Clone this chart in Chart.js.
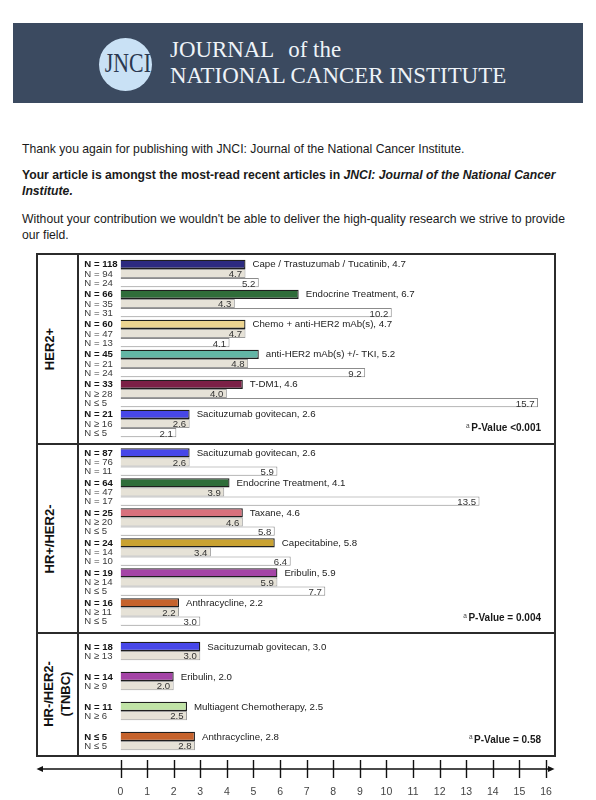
<!DOCTYPE html>
<html>
<head>
<meta charset="utf-8">
<script src="https://cdn.jsdelivr.net/npm/chart.js@4.4.1/dist/chart.umd.min.js"></script>
<style>
html,body{margin:0;padding:0;background:#ffffff;}
#page{position:relative;width:596px;height:800px;overflow:hidden;font-family:"Liberation Sans",Arial,sans-serif;color:#1a1a1a;}
.abs{position:absolute;}
#banner{left:13px;top:23px;width:570px;height:80px;background:#3b4a60;}
#logo{left:98.5px;top:37.5px;width:53px;height:53px;border-radius:50%;background:#c9e1f5;}
#logoText{left:98.5px;top:35.8px;width:53px;height:53px;line-height:53px;text-align:center;font-family:"Liberation Serif","Times New Roman",serif;font-size:28px;color:#2b3850;transform:scaleX(0.78);}
.title{left:170px;font-family:"Liberation Serif","Times New Roman",serif;font-size:22.9px;line-height:22.9px;color:#eef3f8;white-space:nowrap;}
.para{left:22px;font-size:12.2px;line-height:15.7px;white-space:nowrap;color:#1a1a1a;}
.frame{background:#2b2b2b;}
.sect{font-weight:bold;font-size:13px;line-height:16.7px;text-align:center;white-space:nowrap;transform:translate(-50%,-50%) rotate(-90deg);color:#111;}
canvas{position:absolute;left:0;}
</style>
</head>
<body>
<div id="page">
  <div id="banner" class="abs"></div>
  <div id="logo" class="abs"></div>
  <div id="logoText" class="abs">JNCI</div>
  <div class="abs title" style="top:39.4px;">JOURNAL<span style="margin-left:14px">of the</span></div>
  <div class="abs title" style="top:64.9px;">NATIONAL CANCER INSTITUTE</div>

  <div class="abs para" style="top:142.2px;">Thank you again for publishing with JNCI: Journal of the National Cancer Institute.</div>
  <div class="abs para" style="top:168.4px;font-weight:bold;">Your article is amongst the most-read recent articles in <i>JNCI: Journal of the National Cancer</i><br><i>Institute.</i></div>
  <div class="abs para" style="top:211.9px;">Without your contribution we wouldn't be able to deliver the high-quality research we strive to provide<br>our field.</div>

  <!-- frame -->
  <div class="abs frame" style="left:36px;top:253px;width:520px;height:2px;"></div>
  <div class="abs frame" style="left:36px;top:755px;width:520px;height:2px;"></div>
  <div class="abs frame" style="left:36px;top:253px;width:2px;height:504px;"></div>
  <div class="abs frame" style="left:554px;top:253px;width:2px;height:504px;"></div>
  <div class="abs frame" style="left:77px;top:253px;width:2px;height:504px;"></div>
  <div class="abs frame" style="left:36px;top:443px;width:520px;height:2px;"></div>
  <div class="abs frame" style="left:36px;top:632px;width:520px;height:2px;"></div>

  <div class="abs sect" style="left:50px;top:349px;">HER2+</div>
  <div class="abs sect" style="left:50px;top:539px;">HR+/HER2-</div>
  <div class="abs sect" style="left:58.3px;top:694px;">HR-/HER2-<br>(TNBC)</div>

  <canvas id="cA" width="596" height="189" style="top:255px;"></canvas>
  <canvas id="cB" width="596" height="189" style="top:444px;"></canvas>
  <canvas id="cC" width="596" height="167" style="top:633px;"></canvas>
</div>

<script>
// ---------- DATA ----------
const her2Treatments = ['Cape / Trastuzumab / Tucatinib', 'Endocrine Treatment', 'Chemo + anti-HER2 mAb(s)', 'anti-HER2 mAb(s) +/- TKI', 'T-DM1', 'Sacituzumab govitecan'];
const her2Overall = [4.7, 6.7, 4.7, 5.2, 4.6, 2.6];
const her2Sub1 = [4.7, 4.3, 4.7, 4.8, 4.0, 2.6];
const her2Sub2 = [5.2, 10.2, 4.1, 9.2, 15.7, 2.1];
const her2NOverall = ['N = 118', 'N = 66', 'N = 60', 'N = 45', 'N = 33', 'N = 21'];
const her2NSub1 = ['N = 94', 'N = 35', 'N = 47', 'N = 21', 'N \u2265 28', 'N \u2265 16'];
const her2NSub2 = ['N = 24', 'N = 31', 'N = 13', 'N = 24', 'N \u2264 5', 'N \u2264 5'];
const her2PValue = 'P-Value <0.001';

const hrTreatments = ['Sacituzumab govitecan', 'Endocrine Treatment', 'Taxane', 'Capecitabine', 'Eribulin', 'Anthracycline'];
const hrOverall = [2.6, 4.1, 4.6, 5.8, 5.9, 2.2];
const hrSub1 = [2.6, 3.9, 4.6, 3.4, 5.9, 2.2];
const hrSub2 = [5.9, 13.5, 5.8, 6.4, 7.7, 3.0];
const hrNOverall = ['N = 87', 'N = 64', 'N = 25', 'N = 24', 'N = 19', 'N = 16'];
const hrNSub1 = ['N = 76', 'N = 47', 'N \u2265 20', 'N = 14', 'N \u2265 14', 'N \u2265 11'];
const hrNSub2 = ['N = 11', 'N = 17', 'N \u2264 5', 'N = 10', 'N \u2264 5', 'N \u2264 5'];
const hrPValue = 'P-Value = 0.004';

const tnbcTreatments = ['Sacituzumab govitecan', 'Eribulin', 'Multiagent Chemotherapy', 'Anthracycline'];
const tnbcOverall = [3.0, 2.0, 2.5, 2.8];
const tnbcSub1 = [3.0, 2.0, 2.5, 2.8];
const tnbcNOverall = ['N = 18', 'N = 14', 'N = 11', 'N \u2264 5'];
const tnbcNSub1 = ['N \u2265 13', 'N \u2265 9', 'N \u2265 6', 'N \u2264 5'];
const tnbcPValue = 'P-Value = 0.58';

const axisTicks = [0, 1, 2, 3, 4, 5, 6, 7, 8, 9, 10, 11, 12, 13, 14, 15, 16];

// ---------- STYLES ----------
const treatmentColors = {
  'Cape / Trastuzumab / Tucatinib': '#2c2a80',
  'Endocrine Treatment': '#2f6d3a',
  'Chemo + anti-HER2 mAb(s)': '#ecd490',
  'anti-HER2 mAb(s) +/- TKI': '#62b6a6',
  'T-DM1': '#7b2046',
  'Sacituzumab govitecan': '#4747e8',
  'Taxane': '#d8717d',
  'Capecitabine': '#c9a232',
  'Eribulin': '#a444a6',
  'Anthracycline': '#c5622c',
  'Multiagent Chemotherapy': '#c0e3a6'
};
const FONT = '"Liberation Sans", Arial, sans-serif';
const PLOT_LEFT = 120.5, PLOT_RIGHT_PAD = 50;

const annotate = {
  id: 'annotate',
  afterDatasetsDraw(chart, args, opts) {
    const ctx = chart.ctx;
    ctx.save();
    ctx.textBaseline = 'middle';
    chart.data.datasets.forEach((ds, di) => {
      const meta = chart.getDatasetMeta(di);
      meta.data.forEach((bar, i) => {
        const v = ds.data[i];
        ctx.textAlign = 'left';
        ctx.font = (di === 0 ? 'bold ' : '') + '9.6px ' + FONT;
        ctx.fillStyle = di === 0 ? '#151515' : '#3a3a3a';
        ctx.fillText(opts.nLabels[di][i], 84.3, bar.y + 0.5);
        if (di === 0) {
          ctx.font = '9.7px ' + FONT;
          ctx.fillStyle = '#222';
          ctx.fillText(opts.names[i] + ', ' + v.toFixed(1), bar.x + 7, bar.y + 0.5);
        } else {
          ctx.font = '9.6px ' + FONT;
          ctx.fillStyle = '#333';
          ctx.textAlign = 'right';
          ctx.fillText(v.toFixed(1), bar.x - 3.5, bar.y + 1.2);
        }
      });
    });
    // p-value
    const py = chart.chartArea.bottom - opts.pOffset;
    ctx.textAlign = 'right';
    ctx.font = 'bold 10px ' + FONT;
    ctx.fillStyle = '#1a1a1a';
    ctx.fillText(opts.pText, 541, py);
    const w = ctx.measureText(opts.pText).width;
    ctx.font = '6.5px ' + FONT;
    ctx.fillStyle = '#444';
    ctx.fillText('a', 541 - w - 1.5, py - 2.5);
    ctx.restore();
  }
};

const axisDecor = {
  id: 'axisDecor',
  afterDraw(chart, args, opts) {
    if (!opts.enabled) return;
    const ctx = chart.ctx, xs = chart.scales.x;
    const y = opts.y;
    ctx.save();
    ctx.strokeStyle = '#111';
    ctx.fillStyle = '#111';
    ctx.lineWidth = 1.4;
    ctx.beginPath();
    ctx.moveTo(42, y); ctx.lineTo(549, y);
    xs.ticks.forEach(t => {
      const px = Math.round(xs.getPixelForValue(t.value)) + 0.5;
      ctx.moveTo(px, y - 9); ctx.lineTo(px, y + 9);
    });
    ctx.stroke();
    ctx.beginPath();
    ctx.moveTo(36.5, y); ctx.lineTo(43, y - 3); ctx.lineTo(43, y + 3); ctx.closePath(); ctx.fill();
    ctx.beginPath();
    ctx.moveTo(554.5, y); ctx.lineTo(548, y - 3); ctx.lineTo(548, y + 3); ctx.closePath(); ctx.fill();
    ctx.restore();
  }
};

function makeChart(id, names, overall, subs, nLabels, pText, pOffset, pad, withAxis) {
  const datasets = [{
    data: overall,
    backgroundColor: names.map(n => treatmentColors[n]),
    borderColor: '#1e1e1e',
    borderWidth: 1.3
  }];
  subs.forEach((s, k) => {
    datasets.push({
      data: s,
      backgroundColor: k === 0 ? '#e6e2d7' : '#ffffff',
      borderColor: k === 0 ? '#9c9c9c' : '#8c8c8c',
      borderWidth: 1
    });
  });
  const nSets = datasets.length;
  return new Chart(document.getElementById(id), {
    type: 'bar',
    data: { labels: names, datasets: datasets },
    options: {
      indexAxis: 'y',
      responsive: false,
      animation: false,
      devicePixelRatio: 1,
      datasets: { bar: { barPercentage: 1.0, categoryPercentage: nSets === 3 ? 0.92 : 0.613 } },
      layout: { padding: { left: PLOT_LEFT, right: PLOT_RIGHT_PAD, top: pad[0], bottom: pad[1] } },
      scales: {
        y: { type: 'category', display: false },
        x: {
          type: 'linear', min: 0, max: 16,
          display: withAxis,
          position: 'bottom',
          grid: { display: false, drawTicks: false },
          border: { display: false },
          afterBuildTicks: (scale) => { scale.ticks = axisTicks.map(v => ({ value: v })); },
          afterFit: (scale) => { if (withAxis) scale.height = 44; },
          ticks: {
            autoSkip: false, maxRotation: 0,
            padding: 30,
            color: '#444',
            font: { size: 10.5, family: FONT },
            callback: (v) => String(v)
          }
        }
      },
      plugins: {
        legend: { display: false },
        tooltip: { enabled: false },
        annotate: { names: names, nLabels: nLabels, pText: pText, pOffset: pOffset },
        axisDecor: { enabled: withAxis, y: 136 }
      }
    },
    plugins: [annotate, axisDecor]
  });
}

makeChart('cA', her2Treatments, her2Overall, [her2Sub1, her2Sub2], [her2NOverall, her2NSub1, her2NSub2], her2PValue, 10, [3.5, 5.5], false);
makeChart('cB', hrTreatments, hrOverall, [hrSub1, hrSub2], [hrNOverall, hrNSub1, hrNSub2], hrPValue, 8.7, [3, 6], false);
makeChart('cC', tnbcTreatments, tnbcOverall, [tnbcSub1], [tnbcNOverall, tnbcNSub1], tnbcPValue, 16, [3, 0], true);
</script>
</body>
</html>
